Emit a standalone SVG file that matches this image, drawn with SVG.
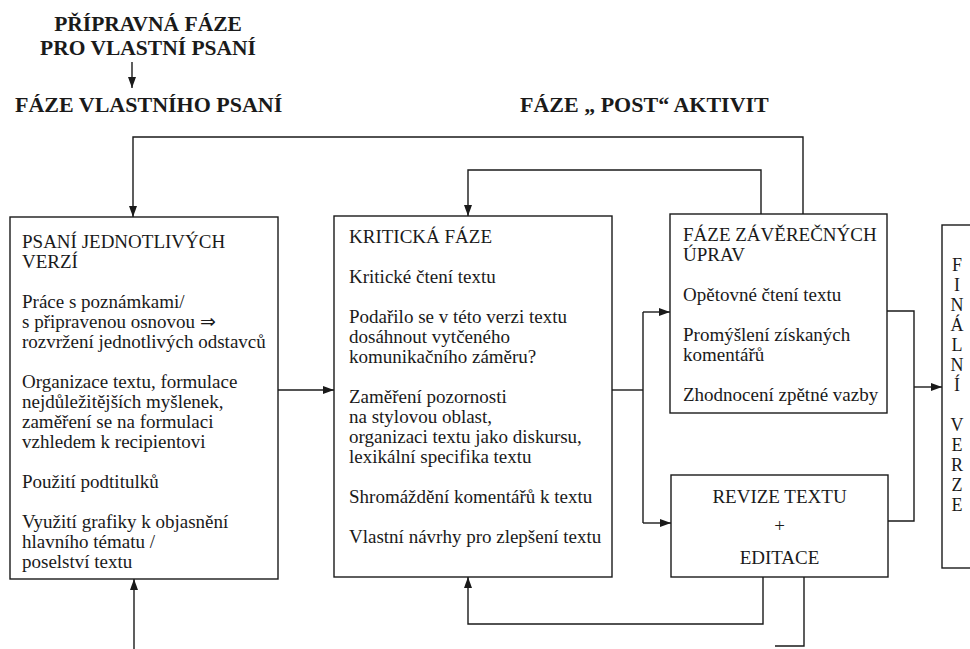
<svg xmlns="http://www.w3.org/2000/svg" width="970" height="649" viewBox="0 0 970 649">
<style>
.box{fill:#fff;stroke:#1a1a1a;stroke-width:1.4}
.ln{fill:none;stroke:#1a1a1a;stroke-width:1.4}
.t{font-family:"Liberation Serif","Times New Roman",serif;font-size:19px;fill:#1a1a1a}
.h{font-family:"Liberation Serif","Times New Roman",serif;font-size:22px;font-weight:bold;fill:#1a1a1a}
.h2{font-family:"Liberation Serif","Times New Roman",serif;font-size:21.5px;font-weight:bold;fill:#1a1a1a;text-anchor:middle}
.c{text-anchor:middle}
.v{font-family:"Liberation Serif","Times New Roman",serif;font-size:18px;fill:#1a1a1a;text-anchor:middle}
</style>
<defs>
<marker id="ah" markerUnits="userSpaceOnUse" markerWidth="11" markerHeight="8" refX="11" refY="4" orient="auto">
<path d="M0,0 L11,4 L0,8 z" fill="#1a1a1a"/>
</marker>
</defs>
<rect width="970" height="649" fill="#fff"/>

<g id="headings">
<text class="h2" x="148" y="31">PŘÍPRAVNÁ FÁZE</text>
<text class="h2" x="148" y="55">PRO VLASTNÍ PSANÍ</text>
<text class="h" x="15" y="112">FÁZE VLASTNÍHO PSANÍ</text>
<text class="h" x="520" y="112">FÁZE „ POST“ AKTIVIT</text>
</g>

<g id="connectors">
<line class="ln" x1="132" y1="62" x2="132" y2="88" marker-end="url(#ah)"/>
<polyline class="ln" points="803,214 803,137 133,137 133,217" marker-end="url(#ah)"/>
<polyline class="ln" points="761,214 761,170 468,170 468,216" marker-end="url(#ah)"/>
<line class="ln" x1="278" y1="390" x2="334" y2="390" marker-end="url(#ah)"/>
<polyline class="ln" points="612,390 643,390"/>
<polyline class="ln" points="643,312 643,523"/>
<line class="ln" x1="643" y1="312" x2="670" y2="312" marker-end="url(#ah)"/>
<line class="ln" x1="643" y1="523" x2="671" y2="523" marker-end="url(#ah)"/>
<polyline class="ln" points="887,311 914,311 914,521 888,521"/>
<line class="ln" x1="914" y1="387" x2="942" y2="387" marker-end="url(#ah)"/>
<polyline class="ln" points="763,577 763,624 468,624 468,577" marker-end="url(#ah)"/>
<polyline class="ln" points="804,577 804,646 775,646"/>
<line class="ln" x1="134" y1="649" x2="134" y2="579" marker-end="url(#ah)"/>
</g>

<g id="psani">
<rect class="box" x="10" y="217" width="268" height="362"/>
<text class="t" x="22" y="248">PSANÍ JEDNOTLIVÝCH</text>
<text class="t" x="22" y="268">VERZÍ</text>
<text class="t" x="22" y="308">Práce s poznámkami/</text>
<text class="t" x="22" y="328">s připravenou osnovou ⇒</text>
<text class="t" x="22" y="348">rozvržení jednotlivých odstavců</text>
<text class="t" x="22" y="388">Organizace textu, formulace</text>
<text class="t" x="22" y="408">nejdůležitějších myšlenek,</text>
<text class="t" x="22" y="428">zaměření se na formulaci</text>
<text class="t" x="22" y="448">vzhledem k recipientovi</text>
<text class="t" x="22" y="488">Použití podtitulků</text>
<text class="t" x="22" y="528">Využití grafiky k objasnění</text>
<text class="t" x="22" y="548">hlavního tématu /</text>
<text class="t" x="22" y="568">poselství textu</text>
</g>

<g id="kriticka">
<rect class="box" x="334" y="216" width="278" height="361"/>
<text class="t" x="349" y="243">KRITICKÁ FÁZE</text>
<text class="t" x="349" y="283">Kritické čtení textu</text>
<text class="t" x="349" y="323">Podařilo se v této verzi textu</text>
<text class="t" x="349" y="343">dosáhnout vytčeného</text>
<text class="t" x="349" y="363">komunikačního záměru?</text>
<text class="t" x="349" y="403">Zaměření pozornosti</text>
<text class="t" x="349" y="423">na stylovou oblast,</text>
<text class="t" x="349" y="443">organizaci textu jako diskursu,</text>
<text class="t" x="349" y="463">lexikální specifika textu</text>
<text class="t" x="349" y="503">Shromáždění komentářů k textu</text>
<text class="t" x="349" y="543">Vlastní návrhy pro zlepšení textu</text>
</g>

<g id="zaverecne">
<rect class="box" x="670" y="214" width="217" height="199"/>
<text class="t" x="683" y="241">FÁZE ZÁVĚREČNÝCH</text>
<text class="t" x="683" y="261">ÚPRAV</text>
<text class="t" x="683" y="301">Opětovné čtení textu</text>
<text class="t" x="683" y="341">Promýšlení získaných</text>
<text class="t" x="683" y="361">komentářů</text>
<text class="t" x="683" y="401">Zhodnocení zpětné vazby</text>
</g>

<g id="revize">
<rect class="box" x="671" y="475" width="217" height="102"/>
<text class="t c" x="779.5" y="503">REVIZE TEXTU</text>
<text class="t c" x="779.5" y="532">+</text>
<text class="t c" x="779.5" y="564">EDITACE</text>
</g>

<g id="finalni">
<rect class="box" x="942" y="225" width="40" height="343"/>
<text class="v" x="957" y="271">F</text>
<text class="v" x="957" y="291">I</text>
<text class="v" x="957" y="311">N</text>
<text class="v" x="957" y="331">Á</text>
<text class="v" x="957" y="351">L</text>
<text class="v" x="957" y="371">N</text>
<text class="v" x="957" y="391">Í</text>
<text class="v" x="957" y="431">V</text>
<text class="v" x="957" y="451">E</text>
<text class="v" x="957" y="471">R</text>
<text class="v" x="957" y="491">Z</text>
<text class="v" x="957" y="511">E</text>
</g>
</svg>
